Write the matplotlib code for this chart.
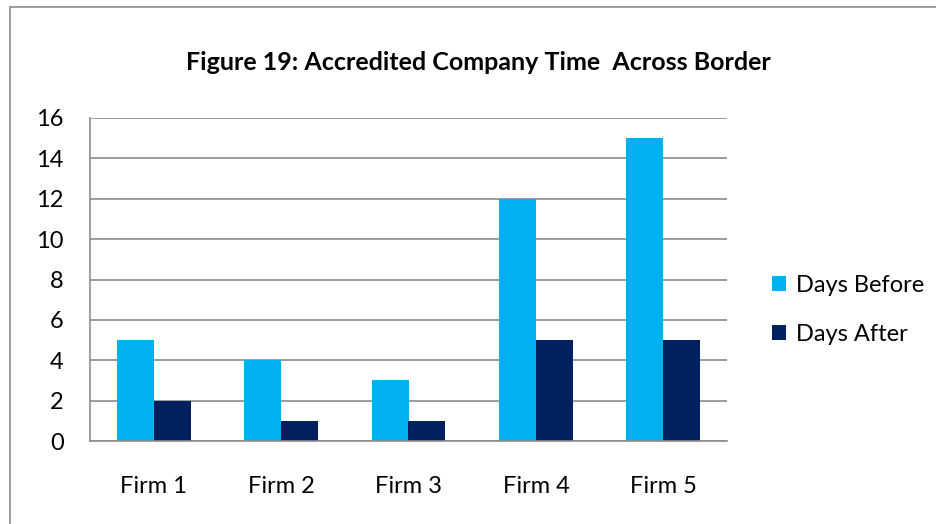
import matplotlib.pyplot as plt
import numpy as np
from matplotlib.patches import Rectangle

firms = ["Firm 1", "Firm 2", "Firm 3", "Firm 4", "Firm 5"]
days_before = [5, 4, 3, 12, 15]
days_after = [2, 1, 1, 5, 5]

plt.rcParams['font.family'] = ['Lato', 'DejaVu Sans']

fig = plt.figure(figsize=(9.37, 5.24), dpi=100)
# outer chart border (cut off at right/bottom like the screenshot)
fig.patches.append(Rectangle((10 / 937, -0.1), 1.2, (524 - 7) / 524 + 0.1,
                             transform=fig.transFigure, fill=False,
                             edgecolor="#8c8c8c", linewidth=1.2))

ax = fig.add_axes([90 / 937, (524 - 441) / 524, (727 - 90) / 937, (441 - 118) / 524])

x = np.arange(len(firms))
w = 0.29
ax.bar(x - w / 2, days_before, w, color="#00B0F0", label="Days Before")
ax.bar(x + w / 2, days_after, w, color="#002060", label="Days After")

ax.set_xlim(-0.5, len(firms) - 0.5)
ax.set_ylim(0, 16)
ax.set_yticks(range(0, 17, 2))
ax.set_xticks(x)
ax.set_xticklabels(firms)
ax.tick_params(axis="both", length=0, labelsize=17, colors="black")
ax.tick_params(axis="x", pad=25)
ax.tick_params(axis="y", pad=19)

ax.grid(axis="y", color="#8c8c8c", linewidth=1.2)
ax.set_axisbelow(True)
for s in ["top", "right"]:
    ax.spines[s].set_visible(False)
for s in ["left", "bottom"]:
    ax.spines[s].set_color("#8c8c8c")
    ax.spines[s].set_linewidth(1.2)

fig.text(478 / 937, 1 - 63 / 524, "Figure 19: Accredited Company Time  Across Border",
         ha="center", va="center", fontsize=18, fontweight="bold")

ax.legend(loc="center left", bbox_to_anchor=(751 / 937, 1 - 310 / 524),
          bbox_transform=fig.transFigure, frameon=False, fontsize=17,
          handlelength=0.6, handleheight=0.6, labelspacing=1.2, handletextpad=0.4)

fig.savefig("out.png", dpi=100)
